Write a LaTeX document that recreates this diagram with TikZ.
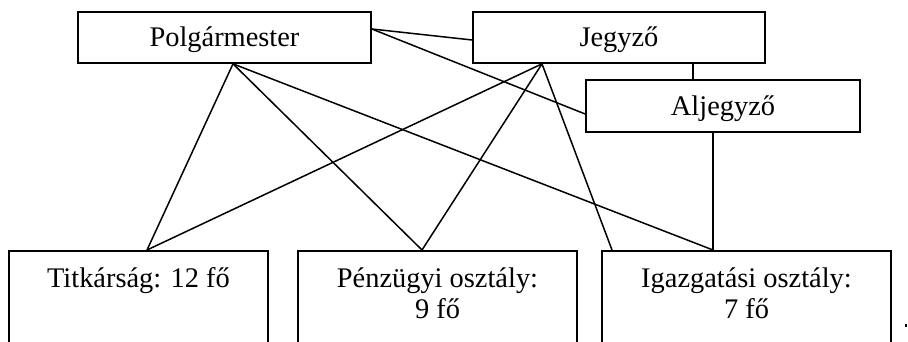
\documentclass[tikz,border=0pt]{standalone}
\usepackage{fontspec}
\setmainfont{Liberation Serif}
\begin{document}
\begin{tikzpicture}[x=1pt,y=-1pt,
  box/.style={draw, line width=1.7pt, rectangle, inner sep=0pt},
  topbox/.style={box, text height=22pt, text depth=3pt},
  botbox/.style={box, anchor=north, text height=37pt, text depth=110pt},
  conn/.style={line width=1.5pt},
  font=\fontsize{28.4}{31}\selectfont]
\useasboundingbox (0,0) rectangle (908,342);
\clip (0,0) rectangle (908,342);
% top boxes
\node[topbox, minimum width=293pt, minimum height=51pt] (pm) at (224.5,37.5) {Polgármester};
\node[topbox, minimum width=292pt, minimum height=51pt] (jg) at (619,37.5) {Jegyző};
\node[topbox, minimum width=274pt, minimum height=52pt] (al) at (723,106) {Aljegyző};
% bottom boxes
\node[botbox, minimum width=259pt] (tit) at (138.5,250) {Titkárság: 12 fő};
\node[botbox, minimum width=279pt] (pen) at (437.5,250) {\begin{tabular}[t]{@{}c@{}}Pénzügyi osztály:\\9 fő\end{tabular}};
\node[botbox, minimum width=289pt] (ig) at (746.5,250) {\begin{tabular}[t]{@{}c@{}}Igazgatási osztály:\\7 fő\end{tabular}};
% connection points
\coordinate (pmS) at ([xshift=8.5pt]pm.south);
\coordinate (pmE) at ([yshift=8.5pt]pm.east);
\coordinate (jgS) at ([xshift=-77pt]jg.south);
\coordinate (jgW) at ([yshift=-2.5pt]jg.west);
\coordinate (jgR) at ([xshift=74pt]jg.south);
\coordinate (alN) at ([xshift=-30pt]al.north);
\coordinate (alW) at ([yshift=-8pt]al.west);
\coordinate (alS) at ([xshift=-10pt]al.south);
\coordinate (titN) at ([xshift=8.5pt]tit.north);
\coordinate (penN) at ([xshift=-15.5pt]pen.north);
\coordinate (igA) at ([xshift=-134.5pt]ig.north);
\coordinate (igB) at ([xshift=-33.5pt]ig.north);
% connectors
\draw[conn] (pmS) -- (titN);
\draw[conn] (pmS) -- (penN);
\draw[conn] (pmS) -- (igB);
\draw[conn] (jgS) -- (titN);
\draw[conn] (jgS) -- (penN);
\draw[conn] (jgS) -- (igA);
\draw[conn] (pmE) -- (jgW);
\draw[conn] (pmE) -- (alW);
\draw[conn] (jgR) -- (alN);
\draw[conn] (alS) -- (igB);
% small mark at right edge
\fill (905,324) rectangle (907,327);
\end{tikzpicture}
\end{document}
